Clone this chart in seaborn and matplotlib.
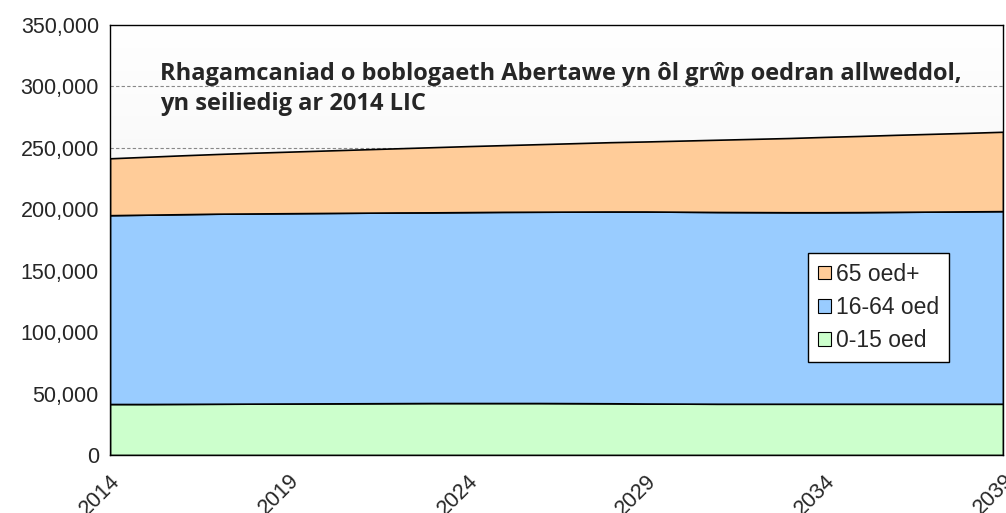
import numpy as np
import pandas as pd
import matplotlib.pyplot as plt
import seaborn as sns
from matplotlib.ticker import FuncFormatter, MultipleLocator

# data
years = list(range(2014, 2040))
age_0_15 = [41500, 41500, 41600, 41700, 41800, 41900, 42000, 42100, 42200, 42300,
            42300, 42300, 42300, 42200, 42100, 41900, 41800, 41700, 41700, 41700,
            41700, 41700, 41700, 41700, 41700, 41700]
age_16_64 = [153700, 154100, 154400, 154700, 154800, 154900, 155000, 155100, 155200, 155200,
             155400, 155600, 155700, 155900, 156100, 156300, 156200, 156100, 156000, 155900,
             155900, 156000, 156200, 156400, 156600, 156800]
age_65 = [46300, 47100, 47900, 48600, 49400, 50100, 50800, 51500, 52200, 53000,
          53700, 54300, 55000, 55700, 56400, 57000, 57900, 58800, 59600, 60400,
          61300, 62000, 62700, 63300, 63900, 64600]
labels = ["0-15 oed", "16-64 oed", "65 oed+"]
colors = ["#ccffcc", "#99ccff", "#ffcc99"]
title = "Rhagamcaniad o boblogaeth Abertawe yn ôl grŵp oedran allweddol,\nyn seiliedig ar 2014 LIC"

df = pd.DataFrame({"year": years, labels[0]: age_0_15, labels[1]: age_16_64, labels[2]: age_65})

sns.set_style("white")
plt.rcParams["font.family"] = ["Liberation Sans", "DejaVu Sans"]

fig = plt.figure(figsize=(10.06, 5.13), dpi=100)
ax = fig.add_axes([110 / 1006, 1 - 455 / 513, 893 / 1006, 430 / 513])

# soft grey gradient background
grad = np.linspace(1, 0, 256).reshape(-1, 1)
ax.imshow(grad, extent=[2014, 2039, 0, 350000], aspect="auto", cmap=plt.cm.colors.LinearSegmentedColormap.from_list("bg", ["#ececec", "#ffffff"]), zorder=0)

for y in [250000, 300000]:
    ax.axhline(y, color="#888888", ls=(0, (3, 2)), lw=0.8, zorder=1)

ax.stackplot(df["year"], df[labels[0]], df[labels[1]], df[labels[2]],
             colors=colors, labels=labels, edgecolor="black", linewidth=1.2, zorder=2)

ax.set_xlim(2014, 2039)
ax.set_ylim(0, 350000)
ax.yaxis.set_major_locator(MultipleLocator(50000))
ax.yaxis.set_major_formatter(FuncFormatter(lambda v, p: f"{int(v):,}"))
ax.set_xticks(years)
ax.set_xticklabels([str(y) if (y - 2014) % 5 == 0 else "" for y in years],
                   rotation=45, ha="right", rotation_mode="anchor")
ax.tick_params(axis="both", direction="out", length=5, width=1, color="black",
               labelsize=15.5, pad=3)
ax.tick_params(axis="x", pad=6)
for s in ax.spines.values():
    s.set_color("black")
    s.set_linewidth(1)

ax.text(0.056, 0.915, title, transform=ax.transAxes, fontsize=17, fontweight="bold",
        family=["Open Sans", "DejaVu Sans"], va="top", ha="left", linespacing=1.35, zorder=5)

h, l = ax.get_legend_handles_labels()
leg = ax.legend(h[::-1], l[::-1], loc="upper left", bbox_to_anchor=(0.782, 0.47),
                borderaxespad=0, fontsize=16.5, frameon=True, fancybox=False, edgecolor="black",
                facecolor="white", framealpha=1,
                handlelength=0.55, handleheight=0.55, handletextpad=0.25,
                labelspacing=0.45, borderpad=0.42)
leg.get_frame().set_linewidth(1)
for p in leg.get_patches():
    p.set_edgecolor("black")
    p.set_linewidth(0.8)

fig.savefig("out.png", dpi=100)
